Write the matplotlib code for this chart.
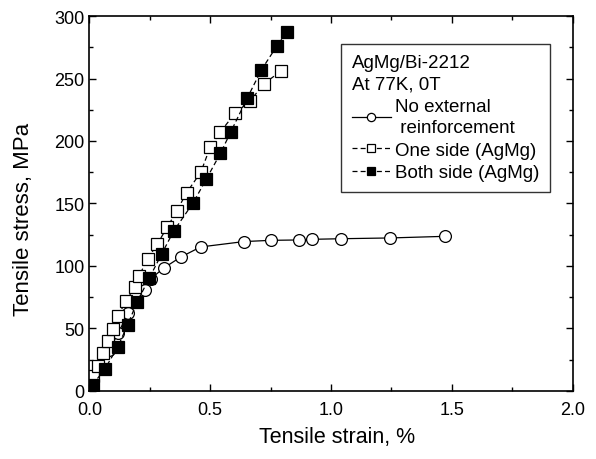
import matplotlib
matplotlib.use("Agg")
import matplotlib.pyplot as plt
from matplotlib.ticker import MultipleLocator

plt.rcParams['font.family'] = ['Liberation Sans', 'DejaVu Sans']

## no external reinforcement (open circles)
none_strain = [0.01, 0.04, 0.08, 0.12, 0.158, 0.230, 0.253, 0.308, 0.377, 0.460,
               0.639, 0.750, 0.868, 0.919, 1.043, 1.243, 1.471]
none_stress = [5, 20, 33, 46, 62.4, 81, 89.6, 98.4, 107, 115.2,
               119.5, 120.5, 120.8, 121.3, 121.8, 122.4, 123.7]

## one side AgMg (open squares)
one_strain = [0.016, 0.036, 0.055, 0.078, 0.096, 0.119, 0.151, 0.188, 0.206, 0.241,
              0.281, 0.322, 0.361, 0.402, 0.461, 0.500, 0.542, 0.602, 0.664, 0.723, 0.792]
one_stress = [11.7, 20.2, 30.4, 40.2, 49.6, 60.2, 71.8, 83.4, 92.3, 105.6,
              117.6, 131, 143.8, 158.6, 175, 195.2, 207.3, 222, 231.8, 246, 255.8]

## both side AgMg (filled squares)
both_strain = [0.013, 0.064, 0.117, 0.158, 0.198, 0.248, 0.299, 0.349, 0.430, 0.484,
               0.542, 0.585, 0.654, 0.712, 0.775, 0.816]
both_stress = [4.8, 17.6, 35, 52.8, 71.4, 90.4, 109.6, 128, 150.7, 169.6,
               190, 207.3, 234.7, 257, 275.8, 287]

fig = plt.figure(figsize=(5.96, 4.60), dpi=100)
ax = fig.add_axes([0.150, 0.148, 0.811, 0.815])

ax.plot(none_strain, none_stress, color='black', lw=0.9, ls='-',
        marker='o', ms=8.5, mfc='white', mec='black', mew=0.9,
        label='No external\n reinforcement')
ax.plot(one_strain, one_stress, color='black', lw=0.9, ls=(0, (4, 2.5)),
        marker='s', ms=8, mfc='white', mec='black', mew=0.9,
        label='One side (AgMg)')
ax.plot(both_strain, both_stress, color='black', lw=0.9, ls=(0, (4, 2.5)),
        marker='s', ms=8, mfc='black', mec='black', mew=0.9,
        label='Both side (AgMg)')

ax.set_xlim(0, 2.0)
ax.set_ylim(0, 300)
ax.xaxis.set_major_locator(MultipleLocator(0.5))
ax.xaxis.set_minor_locator(MultipleLocator(0.25))
ax.yaxis.set_major_locator(MultipleLocator(50))
ax.yaxis.set_minor_locator(MultipleLocator(25))
ax.xaxis.set_major_formatter(plt.FormatStrFormatter('%.1f'))
ax.tick_params(which='both', direction='in', top=True, right=True,
               labelsize=13, width=1)
ax.tick_params(which='major', length=5)
ax.tick_params(axis='x', pad=7)
ax.tick_params(which='minor', length=3)
for s in ax.spines.values():
    s.set_linewidth(1.2)

ax.set_xlabel('Tensile strain, %', fontsize=15.5)
ax.set_ylabel('Tensile stress, MPa', fontsize=16)
ax.xaxis.set_label_coords(0.513, -0.094)
ax.yaxis.set_label_coords(-0.115, 0.461)

leg = ax.legend(title='AgMg/Bi-2212\nAt 77K, 0T', loc='upper right',
                bbox_to_anchor=(0.952, 0.925), fontsize=13.5, title_fontsize=13.5,
                frameon=True, fancybox=False, edgecolor='black',
                handlelength=2.1, handletextpad=0.2, borderpad=0.55,
                borderaxespad=0, labelspacing=0.3, markerscale=0.7,
                alignment='left')
leg.get_frame().set_linewidth(1.0)
for t in leg.get_texts():
    t.set_linespacing(1.3)
leg.get_title().set_linespacing(1.3)

fig.savefig('out.png', dpi=100)
